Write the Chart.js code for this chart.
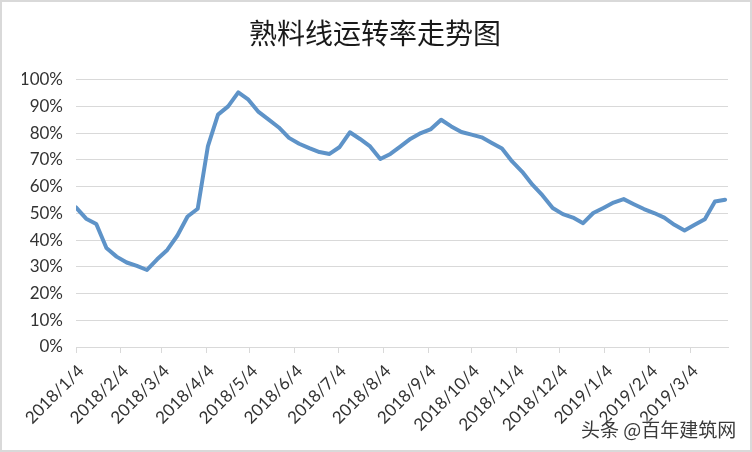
<!DOCTYPE html>
<html><head><meta charset="utf-8">
<script src="https://cdn.jsdelivr.net/npm/chart.js@4/dist/chart.umd.min.js"></script>
<style>
html,body{margin:0;padding:0;background:#fff;}
#wrap{position:relative;width:752px;height:452px;}
#frame{position:absolute;left:0;top:0;width:752px;height:452px;box-sizing:border-box;border:2px solid #d9d9d9;pointer-events:none;}
#wm{position:absolute;left:581px;top:417px;font:19px "Noto Sans CJK SC";line-height:24px;color:#3a3a3a;white-space:nowrap;text-shadow:0 0 3px #fff,0 0 3px #fff;}
</style></head><body>
<div id="wrap"><canvas id="c" width="752" height="452"></canvas><div id="frame"></div><div id="wm">头条 @百年建筑网</div></div>
<script>
const chartTitle = '熟料线运转率走势图';
const weekDates = [
 '2018/1/4','2018/1/11','2018/1/18','2018/1/25','2018/2/1','2018/2/8','2018/2/15','2018/2/22',
 '2018/3/1','2018/3/8','2018/3/15','2018/3/22','2018/3/29','2018/4/5','2018/4/12','2018/4/19',
 '2018/4/26','2018/5/3','2018/5/10','2018/5/17','2018/5/24','2018/5/31','2018/6/7','2018/6/14',
 '2018/6/21','2018/6/28','2018/7/5','2018/7/12','2018/7/19','2018/7/26','2018/8/2','2018/8/9',
 '2018/8/16','2018/8/23','2018/8/30','2018/9/6','2018/9/13','2018/9/20','2018/9/27','2018/10/4',
 '2018/10/11','2018/10/18','2018/10/25','2018/11/1','2018/11/8','2018/11/15','2018/11/22','2018/11/29',
 '2018/12/6','2018/12/13','2018/12/20','2018/12/27','2019/1/3','2019/1/10','2019/1/17','2019/1/24',
 '2019/1/31','2019/2/7','2019/2/14','2019/2/21','2019/2/28','2019/3/7','2019/3/14','2019/3/21','2019/3/28'
];
const utilization = [
 52.2,48,46,37,33.8,31.6,30.3,28.8,
 32.8,36.3,41.7,48.8,51.7,75,86.9,90,
 95.2,92.5,87.9,85,82.1,78.2,76,74.4,
 72.9,72.2,74.8,80.3,77.8,75,70.3,72.2,
 75,77.9,80,81.5,85,82.5,80.4,79.4,
 78.4,76.3,74.2,69.4,65.5,60.7,56.7,52,
 49.7,48.4,46.3,50.1,52,54,55.3,53.4,
 51.6,50.1,48.4,45.7,43.6,45.7,47.8,54.4,55.1
];
const monthTickLabels = ['2018/1/4','2018/2/4','2018/3/4','2018/4/4','2018/5/4','2018/6/4','2018/7/4','2018/8/4',
 '2018/9/4','2018/10/4','2018/11/4','2018/12/4','2019/1/4','2019/2/4','2019/3/4'];
const axisEndDate = '2019/3/30';

function dayOffset(s){
  const p = s.split('/').map(Number);
  return Math.round((Date.UTC(p[0],p[1]-1,p[2]) - Date.UTC(2018,0,4)) / 86400000);
}
const points = weekDates.map((d,i)=>({x:dayOffset(d), y:utilization[i]}));
const labelFont = {family:'Lato, "Open Sans", sans-serif', size:17};

new Chart(document.getElementById('c'), {
  type:'line',
  data:{datasets:[{data:points, borderColor:'#5e93c8', borderWidth:4, pointRadius:0, pointHoverRadius:0, tension:0, fill:false, borderJoinStyle:'round', borderCapStyle:'round'}]},
  options:{
    responsive:false, animation:false, devicePixelRatio:1,
    layout:{padding:{left:22, right:24, top:0, bottom:0}},
    plugins:{
      legend:{display:false}, tooltip:{enabled:false},
      title:{display:true, text:chartTitle, color:'#1a1a1a',
        font:{family:'"Noto Sans CJK SC"', size:28, weight:'normal', lineHeight:1.2},
        padding:{top:17, bottom:29}}
    },
    scales:{
      x:{type:'linear', min:0, max:dayOffset(axisEndDate),
        afterBuildTicks:(s)=>{ s.ticks = monthTickLabels.map(d=>({value:dayOffset(d)})); },
        afterFit:(s)=>{ s.height = 105; },
        ticks:{autoSkip:false, minRotation:45, maxRotation:45, color:'#333', font:labelFont, padding:8, labelOffset:5,
          callback:(v,i)=>monthTickLabels[i]},
        grid:{drawOnChartArea:false, drawTicks:true, tickLength:6, color:'#d9d9d9', lineWidth:1},
        border:{display:true, color:'#d9d9d9', width:1}
      },
      y:{min:0, max:100,
        afterFit:(s)=>{ s.width = 54; },
        ticks:{stepSize:10, color:'#333', font:labelFont, padding:13, callback:(v)=>v+'%'},
        grid:{color:'#d9d9d9', lineWidth:1, drawTicks:false},
        border:{display:false}
      }
    }
  }
});
</script>
</body></html>
